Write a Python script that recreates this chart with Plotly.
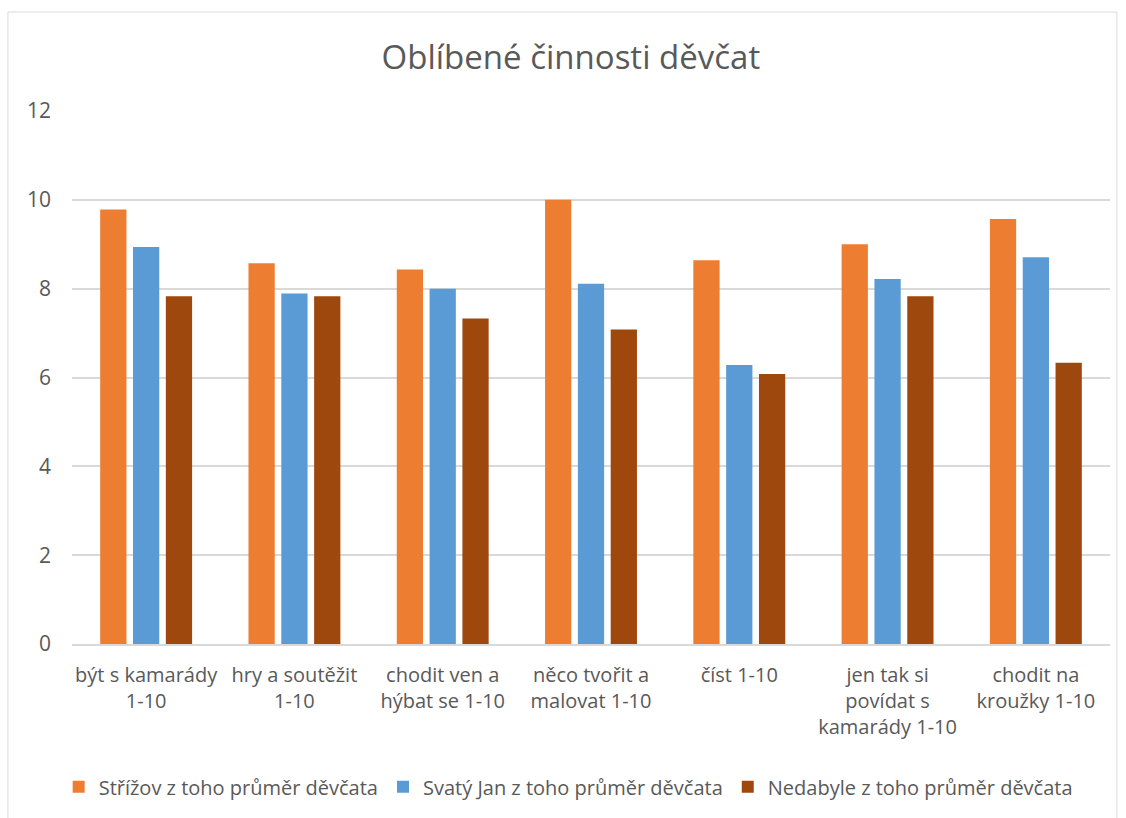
"""
Oblíbené činnosti děvčat - sloupcový graf průměrů (Střížov, Svatý Jan, Nedabyle).
"""
import plotly.graph_objects as go

# kategorie (činnosti) a popisky os
categories = [
    'být s kamarády 1-10',
    'hry a soutěžit 1-10',
    'chodit ven a hýbat se 1-10',
    'něco tvořit a malovat 1-10',
    'číst 1-10',
    'jen tak si povídat s kamarády 1-10',
    'chodit na kroužky 1-10',
]
tick_labels = [
    'být s kamarády<br>1-10',
    'hry a soutěžit<br>1-10',
    'chodit ven a<br>hýbat se 1-10',
    'něco tvořit a<br>malovat 1-10',
    'číst 1-10',
    'jen tak si<br>povídat s<br>kamarády 1-10',
    'chodit na<br>kroužky 1-10',
]

# průměry děvčat podle školy
strizov = [9.78, 8.57, 8.43, 10.0, 8.64, 9.0, 9.57]
svaty_jan = [8.94, 7.89, 8.0, 8.11, 6.28, 8.22, 8.71]
nedabyle = [7.83, 7.83, 7.33, 7.08, 6.08, 7.83, 6.33]

series_names = [
    'Střížov z toho průměr děvčata',
    'Svatý Jan z toho průměr děvčata',
    'Nedabyle z toho průměr děvčata',
]
y_ticks = [0, 2, 4, 6, 8, 10, 12]

colors = ['#ED7D31', '#5B9BD5', '#9E480E']
FONT = 'Open Sans'
TEXT = '#595959'
GRID = '#D9D9D9'

fig = go.Figure()
for name, values, color in zip(series_names, [strizov, svaty_jan, nedabyle], colors):
    fig.add_trace(go.Bar(
        x=categories,
        y=values,
        name=name,
        marker=dict(color=color, line=dict(width=0)),
    ))

# rámeček grafu (jako v Excelu)
fig.add_shape(
    type='rect', xref='paper', yref='paper',
    x0=-0.0617, x1=1.0067, y0=-0.40, y1=1.1857,
    line=dict(color=GRID, width=1), fillcolor='rgba(0,0,0,0)',
    layer='below',
)

fig.update_layout(
    width=1126,
    height=818,
    margin=dict(l=72, r=16, t=111, b=174, autoexpand=False),
    paper_bgcolor='white',
    plot_bgcolor='white',
    barmode='group',
    bargap=0.336,
    bargroupgap=0.2,
    font=dict(family=FONT, color=TEXT, size=20),
    title=dict(
        text='Oblíbené činnosti děvčat',
        x=0.507, xanchor='center',
        y=0.930, yanchor='middle',
        font=dict(family=FONT, size=33, color=TEXT),
    ),
    legend=dict(
        orientation='h',
        x=0.478, xanchor='center',
        y=-0.268, yanchor='middle',
        font=dict(family=FONT, size=20, color=TEXT),
        itemwidth=30,
        traceorder='normal',
    ),
    showlegend=True,
)

fig.update_xaxes(
    tickmode='array',
    tickvals=categories,
    ticktext=tick_labels,
    tickangle=0,
    showgrid=False,
    showline=True,
    linecolor=GRID,
    linewidth=1.5,
    ticks='',
    ticklabelstandoff=12,
    tickfont=dict(family=FONT, size=20, color=TEXT),
)
fig.update_yaxes(
    range=[0, 12],
    tickvals=y_ticks,
    showgrid=True,
    gridcolor=GRID,
    gridwidth=1.5,
    zeroline=False,
    showline=False,
    ticks='',
    ticklabelstandoff=20,
    tickfont=dict(family=FONT, size=21, color=TEXT),
)

fig.write_html(
    "out.html",
    config={'displayModeBar': False},
    post_script="document.body.style.margin='0';",
)
